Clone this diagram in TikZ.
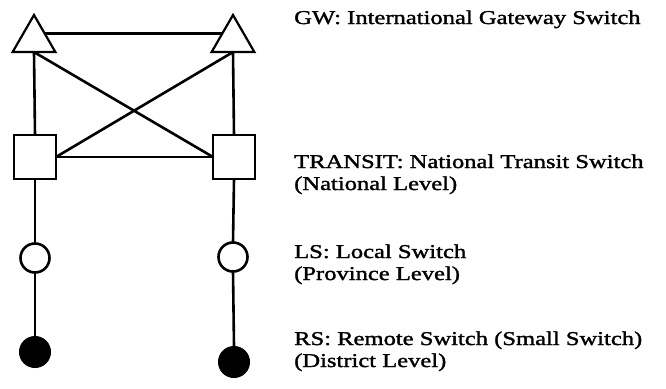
\documentclass[tikz,border=0pt]{standalone}
\usepackage{fontspec}
\setmainfont{Liberation Serif}[FakeStretch=1.26,FakeBold=1.6]
\usetikzlibrary{shapes.geometric,calc}
\begin{document}
\begin{tikzpicture}[x=1pt,y=-1pt,
  ln/.style={line width=2.6pt},
  gw/.style={regular polygon,regular polygon sides=3,draw,line width=2.2pt,minimum size=49.4pt,inner sep=0pt,outer sep=0pt},
  tr/.style={rectangle,draw,line width=2.6pt,minimum width=42pt,minimum height=44pt,inner sep=0pt,outer sep=0pt,fill=white},
  ls/.style={circle,draw,line width=2.6pt,minimum size=29pt,inner sep=0pt,outer sep=0pt,fill=white},
  rs/.style={circle,draw,fill=black,line width=1pt,minimum size=31pt,inner sep=0pt,outer sep=0pt},
  lbl/.style={anchor=base west,inner sep=0pt,font=\fontsize{19.5}{22}\selectfont}]
\useasboundingbox (0,0) rectangle (666,388);
% switches
\node[gw] (tL) at (34,39.7) {};
\node[gw] (tR) at (233,39.7) {};
\node[tr] (sL) at (35,157) {};
\node[tr] (sR) at (234,157) {};
\node[ls] (oL) at (35,258) {};
\node[ls] (oR) at (233,257) {};
\node[rs] (fL) at (35,352) {};
\node[rs] (fR) at (234,362) {};
% connectors
\draw[line width=2.2pt] ($(tL.corner 1)!0.5!(tL.corner 3)$) -- ($(tR.corner 1)!0.5!(tR.corner 2)$);
\draw[ln] (tL.side 2) -- (sL.north);
\draw[ln] (tR.side 2) -- (sR.north);
\draw[ln] (tL.side 2) -- (sR.west);
\draw[ln] (tR.side 2) -- (sL.east);
\draw[ln] (sL.east) -- (sR.west);
\draw[ln] (sL.south) -- (oL.north);
\draw[ln] (sR.south) -- (oR.north);
\draw[ln] (oL.south) -- (fL.north);
\draw[ln] (oR.south) -- (fR.north);
% labels
\node[lbl] (gwt) at (294,24) {GW: International Gateway Switch};
\node[lbl] (trt1) at (294,168) {TRANSIT: National Transit Switch};
\node[lbl] (trt2) at (294,190) {(National Level)};
\node[lbl] (lst1) at (294,258) {LS: Local Switch};
\node[lbl] (lst2) at (294,280) {(Province Level)};
\node[lbl] (rst1) at (294,345) {RS: Remote Switch (Small Switch)};
\node[lbl] (rst2) at (294,367) {(District Level)};
\end{tikzpicture}
\end{document}
